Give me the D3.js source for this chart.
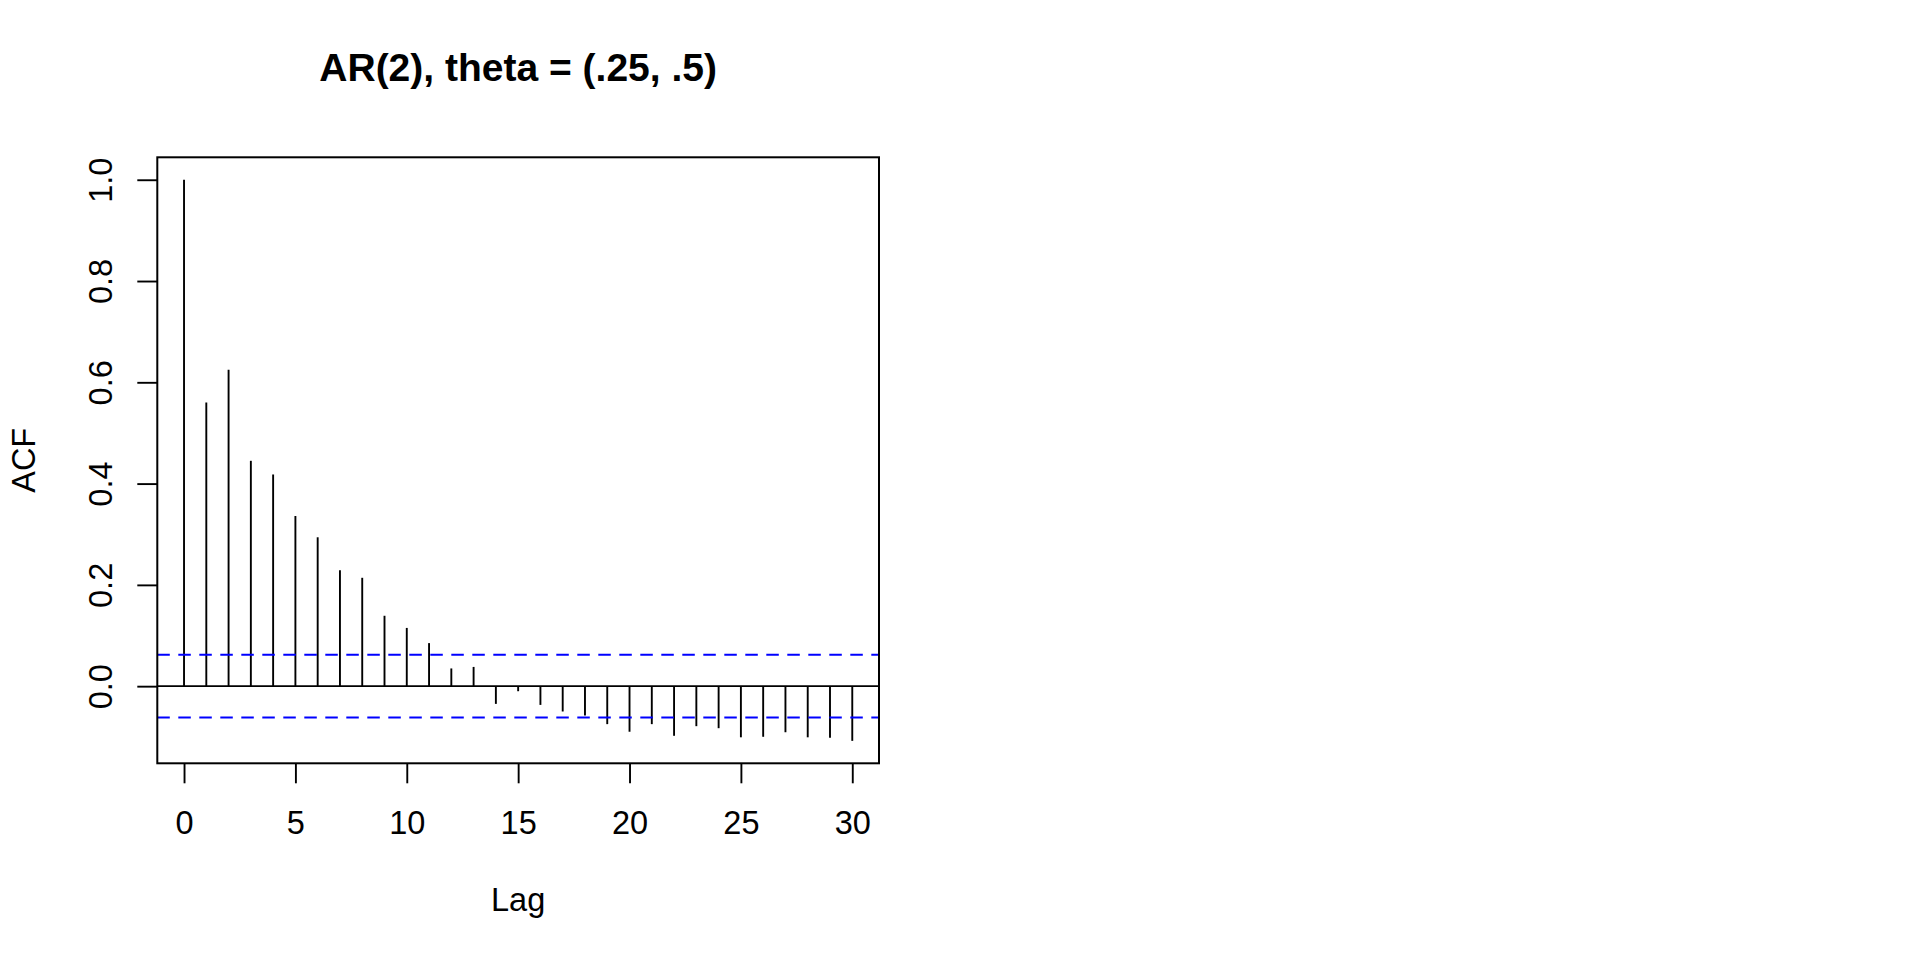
<!DOCTYPE html>
<html>
<head>
<meta charset="utf-8">
<script src="https://cdn.jsdelivr.net/npm/d3@7"></script>
<style>
  body { margin: 0; background: #fff; }
  svg { display: block; }
  text { font-family: "Liberation Sans", Arial, Helvetica, sans-serif; fill: #000; }
</style>
</head>
<body>
<svg id="chart"></svg>
<script>
// sample ACF of a simulated AR(2) series
const lags = d3.range(0, 31)
const acfValues = [
  1.000, 0.560, 0.625, 0.445, 0.418, 0.336, 0.294, 0.229, 0.214, 0.139,
  0.115, 0.085, 0.035, 0.038, -0.035, -0.010, -0.037, -0.050, -0.058, -0.075,
  -0.090, -0.075, -0.098, -0.079, -0.083, -0.101, -0.100, -0.091, -0.101, -0.102,
  -0.108
]
const ciBound = 0.062
const xTicks = [0, 5, 10, 15, 20, 25, 30]
const yTicks = [0, 0.2, 0.4, 0.6, 0.8, 1.0]
const title = 'AR(2), theta = (.25, .5)'

const width = 1920
const height = 960
const box = { left: 157.3, top: 157.3, right: 879, bottom: 763.3 }
const fontSize = 32.5
const lw = 1.9

// R style 4% axis expansion
const expand = ([a, b]) => [a - (b - a) * 0.04, b + (b - a) * 0.04]

const x = d3.scaleLinear()
  .domain(expand(d3.extent(lags)))
  .range([box.left, box.right])

const y = d3.scaleLinear()
  .domain(expand([d3.min([...acfValues, -ciBound]), d3.max([...acfValues, ciBound])]))
  .range([box.bottom, box.top])

const svg = d3.select('#chart')
  .attr('width', width)
  .attr('height', height)

// spikes
svg.append('g')
  .selectAll('line')
  .data(lags)
  .join('line')
    .attr('x1', d => x(d))
    .attr('x2', d => x(d))
    .attr('y1', y(0))
    .attr('y2', (d, i) => y(acfValues[i]))
    .attr('stroke', '#000')
    .attr('stroke-width', lw)

// zero line
svg.append('line')
  .attr('x1', box.left).attr('x2', box.right)
  .attr('y1', y(0)).attr('y2', y(0))
  .attr('stroke', '#000')
  .attr('stroke-width', lw)

// confidence bounds
svg.append('g')
  .selectAll('line')
  .data([ciBound, -ciBound])
  .join('line')
    .attr('x1', box.left)
    .attr('x2', box.right)
    .attr('y1', d => y(d))
    .attr('y2', d => y(d))
    .attr('stroke', '#0000ff')
    .attr('stroke-width', 2)
    .attr('stroke-dasharray', '12.5 8.5')

// box
svg.append('rect')
  .attr('x', box.left)
  .attr('y', box.top)
  .attr('width', box.right - box.left)
  .attr('height', box.bottom - box.top)
  .attr('fill', 'none')
  .attr('stroke', '#000')
  .attr('stroke-width', 2)

// x axis
const xAxis = svg.append('g')
  .attr('transform', `translate(0,${box.bottom})`)
  .call(d3.axisBottom(x).tickValues(xTicks).tickSize(20).tickFormat(d3.format('d')))

xAxis.select('.domain').remove()
xAxis.selectAll('.tick line').attr('stroke', '#000').attr('stroke-width', lw)
xAxis.selectAll('.tick text')
  .attr('y', 71)
  .attr('dy', null)
  .style('font-size', `${fontSize}px`)
  .style('font-family', '"Liberation Sans", Arial, sans-serif')
  .attr('fill', '#000')

// y axis
const yAxis = svg.append('g')
  .attr('transform', `translate(${box.left},0)`)
  .call(d3.axisLeft(y).tickValues(yTicks).tickSize(20).tickFormat(d3.format('.1f')))

yAxis.select('.domain').remove()
yAxis.selectAll('.tick line').attr('stroke', '#000').attr('stroke-width', lw)
yAxis.selectAll('.tick text')
  .attr('x', null)
  .attr('dy', null)
  .attr('transform', 'translate(-45.6,0) rotate(-90)')
  .attr('text-anchor', 'middle')
  .style('font-size', `${fontSize}px`)
  .style('font-family', '"Liberation Sans", Arial, sans-serif')
  .attr('fill', '#000')

// labels
svg.append('text')
  .attr('x', (box.left + box.right) / 2)
  .attr('y', 911)
  .attr('text-anchor', 'middle')
  .style('font-size', `${fontSize}px`)
  .text('Lag')

svg.append('text')
  .attr('transform', `translate(35,${(box.top + box.bottom) / 2}) rotate(-90)`)
  .attr('text-anchor', 'middle')
  .style('font-size', `${fontSize}px`)
  .text('ACF')

svg.append('text')
  .attr('x', (box.left + box.right) / 2)
  .attr('y', 81)
  .attr('text-anchor', 'middle')
  .style('font-size', '39px')
  .style('font-weight', 'bold')
  .text(title)
</script>
</body>
</html>
